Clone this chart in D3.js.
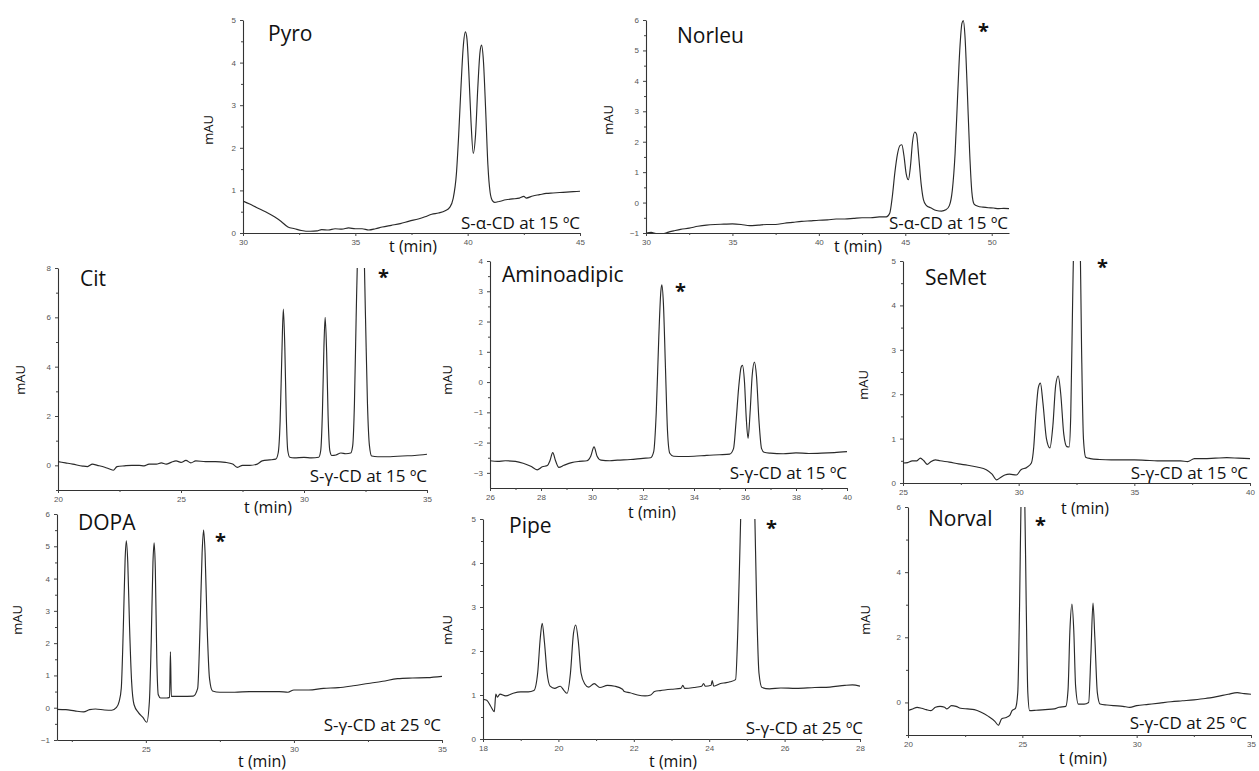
<!DOCTYPE html>
<html><head><meta charset="utf-8">
<script src="https://cdn.jsdelivr.net/npm/d3@7"></script>
<style>
html,body{margin:0;padding:0;background:#fff;}
svg{display:block;}
.tick text{font-family:"Liberation Sans",Arial,sans-serif;font-size:8px;fill:#555;}
.lbl{font-family:"Open Sans",sans-serif;fill:#111;}
</style></head>
<body>
<svg id="c" width="1259" height="771"></svg>
<script>
// ---------- data (t in min, signal in mAU) ----------
const pyro = [[30,0.75],[30.3,0.68],[30.6,0.6],[31,0.5],[31.4,0.38],[31.7,0.27],[32,0.14],[32.3,0.1],[32.6,0.06],[33,0.04],[33.3,0.05],[33.5,0.08],[33.8,0.07],[34.1,0.1],[34.4,0.09],[34.7,0.12],[35,0.1],[35.3,0.1],[35.6,0.07],[35.9,0.1],[36.2,0.14],[36.6,0.18],[37,0.22],[37.4,0.28],[37.8,0.33],[38.1,0.38],[38.4,0.44],[38.7,0.47],[39,0.52],[39.2,0.6],[39.35,0.8],[39.5,1.4],[39.6,2.3],[39.7,3.4],[39.8,4.35],[39.9,4.72],[39.97,4.55],[40.05,3.8],[40.15,2.6],[40.25,1.87],[40.35,2.3],[40.45,3.4],[40.55,4.25],[40.62,4.41],[40.7,4.05],[40.8,2.9],[40.9,1.6],[41.0,0.95],[41.1,0.76],[41.2,0.72],[41.4,0.74],[41.7,0.78],[42,0.8],[42.3,0.82],[42.5,0.86],[42.6,0.82],[42.9,0.87],[43.2,0.9],[43.5,0.93],[43.8,0.94],[44.1,0.95],[44.4,0.96],[44.7,0.97],[45,0.98]];
const norleu = [[30,-1.0],[30.3,-0.98],[30.6,-1.02],[31,-1.02],[31.3,-0.97],[31.6,-0.93],[32,-0.88],[32.5,-0.84],[33,-0.78],[33.5,-0.74],[34,-0.72],[34.5,-0.71],[35,-0.7],[35.5,-0.72],[36,-0.76],[36.5,-0.74],[37,-0.72],[37.5,-0.72],[38,-0.68],[38.5,-0.65],[39,-0.62],[39.5,-0.6],[40,-0.58],[40.5,-0.57],[41,-0.54],[41.5,-0.54],[42,-0.52],[42.5,-0.5],[43,-0.5],[43.5,-0.47],[43.9,-0.47],[44.1,-0.35],[44.25,0.2],[44.4,1.0],[44.55,1.6],[44.7,1.88],[44.8,1.9],[44.92,1.55],[45.05,0.95],[45.18,0.75],[45.3,1.2],[45.42,2.0],[45.55,2.32],[45.65,2.25],[45.78,1.5],[45.92,0.6],[46.05,0.1],[46.2,-0.08],[46.5,-0.18],[46.8,-0.26],[47.1,-0.28],[47.35,-0.24],[47.55,-0.1],[47.72,0.4],[47.88,1.6],[48.02,3.4],[48.15,5.0],[48.28,5.9],[48.36,5.98],[48.45,5.5],[48.58,3.8],[48.72,1.7],[48.85,0.35],[48.98,-0.05],[49.2,-0.12],[49.5,-0.15],[49.8,-0.17],[50.1,-0.18],[50.4,-0.2],[50.7,-0.19],[51,-0.2]];
const cit = [[20,0.15],[20.3,0.1],[20.6,0.05],[21,-0.03],[21.2,-0.05],[21.4,0.05],[21.6,0.0],[21.9,-0.08],[22.1,-0.15],[22.25,-0.2],[22.4,-0.05],[22.7,-0.02],[23,0.0],[23.3,0.0],[23.5,-0.02],[23.7,0.05],[24,0.05],[24.2,0.1],[24.4,0.05],[24.6,0.12],[24.8,0.18],[25,0.12],[25.2,0.2],[25.4,0.1],[25.6,0.18],[26,0.15],[26.4,0.15],[26.8,0.12],[27.1,0.05],[27.3,-0.08],[27.5,0.0],[27.8,0.0],[28.1,0.05],[28.3,0.18],[28.6,0.22],[28.85,0.25],[28.95,0.5],[29.03,1.8],[29.1,4.5],[29.16,6.33],[29.22,4.8],[29.28,2.0],[29.34,0.6],[29.42,0.33],[29.6,0.3],[30,0.32],[30.3,0.3],[30.6,0.33],[30.68,0.6],[30.75,2.2],[30.81,4.8],[30.86,6.0],[30.92,4.6],[30.98,2.0],[31.05,0.6],[31.13,0.4],[31.3,0.42],[31.5,0.5],[31.7,0.47],[31.9,0.5],[31.98,0.8],[32.05,2.5],[32.12,6.0],[32.2,9.5],[32.3,11],[32.42,9.5],[32.5,6.0],[32.58,2.5],[32.66,0.8],[32.75,0.38],[33,0.35],[33.5,0.35],[34,0.38],[34.5,0.4],[35,0.45]];
const aminoadipic = [[26,-2.6],[26.3,-2.62],[26.6,-2.6],[27,-2.62],[27.3,-2.68],[27.6,-2.78],[27.85,-2.9],[28.05,-2.8],[28.25,-2.76],[28.35,-2.6],[28.46,-2.33],[28.57,-2.6],[28.7,-2.82],[28.9,-2.75],[29.2,-2.66],[29.5,-2.62],[29.8,-2.6],[29.95,-2.45],[30.08,-2.14],[30.2,-2.45],[30.35,-2.58],[30.7,-2.6],[31,-2.58],[31.5,-2.56],[32,-2.52],[32.3,-2.5],[32.42,-2.3],[32.52,-1.0],[32.62,1.5],[32.7,3.0],[32.74,3.21],[32.8,2.6],[32.88,0.5],[32.96,-1.6],[33.05,-2.35],[33.2,-2.45],[33.6,-2.46],[34,-2.45],[34.5,-2.42],[35,-2.4],[35.4,-2.38],[35.55,-2.2],[35.65,-1.3],[35.75,-0.2],[35.85,0.5],[35.9,0.55],[35.98,0.0],[36.05,-1.2],[36.12,-1.86],[36.2,-1.0],[36.28,0.2],[36.37,0.66],[36.45,0.2],[36.55,-1.3],[36.65,-2.2],[36.75,-2.32],[37,-2.35],[37.5,-2.37],[38,-2.34],[38.5,-2.36],[39,-2.35],[39.5,-2.33],[40,-2.3]];
const semet = [[25,0.45],[25.2,0.46],[25.4,0.5],[25.6,0.5],[25.75,0.56],[25.9,0.5],[26.05,0.42],[26.2,0.48],[26.4,0.52],[26.6,0.5],[27,0.47],[27.4,0.43],[27.8,0.4],[28.2,0.36],[28.6,0.3],[28.85,0.2],[29.05,0.07],[29.2,0.12],[29.4,0.18],[29.6,0.2],[29.9,0.18],[30.1,0.3],[30.35,0.35],[30.55,0.45],[30.65,0.8],[30.75,1.6],[30.85,2.15],[30.94,2.25],[31.05,1.8],[31.2,1.0],[31.35,0.79],[31.48,1.3],[31.6,2.2],[31.71,2.41],[31.82,2.0],[31.95,1.1],[32.08,0.82],[32.18,0.81],[32.25,1.5],[32.33,4.0],[32.42,6.5],[32.53,7.5],[32.63,6.5],[32.72,3.0],[32.8,1.0],[32.9,0.58],[33.1,0.55],[33.5,0.53],[34,0.52],[34.5,0.52],[35,0.52],[35.5,0.51],[36,0.5],[36.5,0.5],[37,0.5],[37.3,0.48],[37.6,0.55],[38,0.55],[38.5,0.56],[39,0.57],[39.5,0.56],[40,0.55]];
const dopa = [[22,-0.05],[22.3,-0.06],[22.6,-0.1],[22.9,-0.13],[23.1,-0.06],[23.3,-0.04],[23.6,-0.07],[23.85,-0.08],[24.0,0.0],[24.1,0.2],[24.17,0.6],[24.24,2.5],[24.3,4.6],[24.34,5.17],[24.39,4.5],[24.45,2.5],[24.52,0.8],[24.6,0.1],[24.75,-0.15],[24.9,-0.3],[25.03,-0.45],[25.12,0.2],[25.18,2.0],[25.24,4.5],[25.28,5.11],[25.32,4.3],[25.37,1.5],[25.42,0.4],[25.5,0.3],[25.7,0.3],[25.8,0.32],[25.83,1.73],[25.86,0.35],[26.2,0.35],[26.6,0.36],[26.75,0.6],[26.83,2.5],[26.9,4.8],[26.95,5.5],[27.0,4.8],[27.07,2.5],[27.15,0.9],[27.25,0.52],[27.5,0.48],[28,0.48],[28.5,0.5],[29,0.5],[29.5,0.5],[29.8,0.48],[30,0.55],[30.5,0.55],[31,0.6],[31.5,0.62],[32,0.68],[32.5,0.75],[33,0.82],[33.5,0.9],[34,0.92],[34.5,0.93],[35,0.97]];
const pipe = [[18,0.9],[18.1,0.88],[18.2,0.75],[18.3,0.62],[18.34,1.02],[18.38,0.95],[18.45,1.02],[18.6,0.98],[18.8,1.04],[19,1.07],[19.2,1.07],[19.35,1.1],[19.45,1.5],[19.52,2.3],[19.57,2.63],[19.63,2.2],[19.7,1.5],[19.78,1.2],[19.9,1.15],[20.05,1.2],[20.15,1.1],[20.23,1.04],[20.32,1.5],[20.4,2.4],[20.46,2.59],[20.53,2.2],[20.6,1.5],[20.7,1.25],[20.8,1.18],[20.95,1.26],[21.1,1.17],[21.3,1.22],[21.5,1.2],[21.7,1.13],[21.75,1.08],[21.9,1.05],[22.1,1.0],[22.3,0.98],[22.45,1.0],[22.55,1.08],[22.7,1.1],[23,1.13],[23.25,1.15],[23.3,1.22],[23.35,1.15],[23.6,1.17],[23.8,1.2],[23.85,1.26],[23.9,1.2],[24.05,1.22],[24.08,1.33],[24.12,1.2],[24.3,1.26],[24.45,1.28],[24.55,1.3],[24.7,1.35],[24.76,2.5],[24.82,4.5],[24.88,6.5],[25.0,8.0],[25.12,7.5],[25.2,5.5],[25.26,3.0],[25.32,1.5],[25.4,1.17],[25.6,1.14],[25.9,1.16],[26.3,1.15],[26.8,1.17],[27.2,1.18],[27.6,1.22],[27.8,1.23],[28,1.2]];
const norval = [[20,-0.25],[20.2,-0.2],[20.4,-0.15],[20.6,-0.18],[20.8,-0.22],[21,-0.25],[21.2,-0.15],[21.4,-0.12],[21.6,-0.15],[21.7,-0.2],[21.9,-0.1],[22.1,-0.12],[22.3,-0.18],[22.6,-0.2],[22.9,-0.22],[23.2,-0.3],[23.5,-0.42],[23.8,-0.58],[23.95,-0.7],[24.1,-0.5],[24.3,-0.46],[24.45,-0.4],[24.55,-0.25],[24.7,-0.18],[24.8,0.3],[24.88,3.0],[24.95,6.5],[25.02,7.5],[25.1,6.5],[25.17,3.0],[25.24,0.3],[25.32,-0.25],[25.6,-0.24],[26,-0.22],[26.4,-0.2],[26.6,-0.15],[26.9,-0.12],[27.0,0.4],[27.08,2.2],[27.17,3.02],[27.25,2.2],[27.33,0.5],[27.45,-0.05],[27.7,-0.05],[27.9,0.0],[28.0,1.5],[28.09,3.05],[28.17,2.0],[28.28,0.3],[28.4,-0.05],[28.7,-0.08],[29,-0.1],[29.4,-0.12],[29.7,-0.15],[30,-0.1],[30.5,-0.06],[31,-0.02],[31.5,0.02],[32,0.05],[32.5,0.08],[33,0.12],[33.5,0.18],[34,0.25],[34.4,0.3],[34.7,0.27],[35,0.25]];

const names = ["Pyro","Norleu","Cit","Aminoadipic","SeMet","DOPA","Pipe","Norval"];
const conditions = ["S-α-CD at 15 ºC","S-α-CD at 15 ºC","S-γ-CD at 15 ºC","S-γ-CD at 15 ºC","S-γ-CD at 15 ºC","S-γ-CD at 25 ºC","S-γ-CD at 25 ºC","S-γ-CD at 25 ºC"];
const series = [pyro, norleu, cit, aminoadipic, semet, dopa, pipe, norval];
const xDomains = [[30,45],[30,51],[20,35],[26,40],[25,40],[22,35],[18,28],[20,35]];
const yDomains = [[0,5],[-1,6],[-1,8],[-3.5,4],[0,5],[-1,6],[0,5],[-1,6]];
const xMajor = [[30,35,40,45],[30,35,40,45,50],[20,25,30,35],[26,28,30,32,34,36,38,40],[25,30,35,40],[25,30,35],[18,20,22,24,26,28],[20,25,30,35]];
const xMinor = [[32.5,37.5,42.5],[32.5,37.5,42.5,47.5],[22.5,27.5,32.5],[27,29,31,33,35,37,39],[27.5,32.5,37.5],[22.5,27.5,32.5],[19,21,23,25,27],[22.5,27.5,32.5]];
const yMajor = [[0,1,2,3,4,5],[-1,0,1,2,3,4,5,6],[0,2,4,6,8],[-3,-2,-1,0,1,2,3,4],[0,1,2,3,4,5],[-1,0,1,2,3,4,5,6],[0,1,2,3,4,5],[0,2,4,6]];
const yMinor = [[0.5,1.5,2.5,3.5,4.5],[-0.5,0.5,1.5,2.5,3.5,4.5,5.5],[-1,1,3,5,7],[-2.5,-1.5,-0.5,0.5,1.5,2.5,3.5],[0.5,1.5,2.5,3.5,4.5],[-0.5,0.5,1.5,2.5,3.5,4.5,5.5],[0.5,1.5,2.5,3.5,4.5],[-1,1,3,5]];
const hasStar = [false,true,true,true,true,true,true,true];

// ---------- layout (pixels) ----------
const layout = [
 {x0:243,x1:580,y0:20,y1:233, ylab:[213,130], name:[268,41], star:null, cond:[580,229], tlab:[413,252]},
 {x0:646,x1:1009,y0:20,y1:233, ylab:[613,120], name:[677,43], star:[978,38], cond:[1008,229], tlab:[858,252]},
 {x0:58,x1:427,y0:268,y1:490, ylab:[25,380], name:[80,286], star:[378,284], cond:[427,482], tlab:[268,513]},
 {x0:490,x1:847,y0:261,y1:488, ylab:[452,380], name:[502,282], star:[675,298], cond:[847,479], tlab:[652,518]},
 {x0:903,x1:1250,y0:261,y1:483, ylab:[868,385], name:[925,285], star:[1097,274], cond:[1248,479], tlab:[1085,514]},
 {x0:57,x1:442,y0:514,y1:740, ylab:[22,620], name:[78,530], star:[215,548], cond:[441,731], tlab:[262,767]},
 {x0:483,x1:860,y0:519,y1:739, ylab:[452,630], name:[509,533], star:[766,535], cond:[863,734], tlab:[673,767]},
 {x0:908,x1:1251,y0:507,y1:735, ylab:[870,620], name:[928,526], star:[1035,532], cond:[1247,729], tlab:[1083,764]}
];

const svg = d3.select("#c");
series.forEach((data,i)=>{
  const L = layout[i];
  const x = d3.scaleLinear().domain(xDomains[i]).range([L.x0,L.x1]);
  const y = d3.scaleLinear().domain(yDomains[i]).range([L.y1,L.y0]);
  const g = svg.append("g");
  const cid = "clip"+i;
  svg.append("clipPath").attr("id",cid).append("rect")
     .attr("x",L.x0).attr("y",L.y0).attr("width",L.x1-L.x0).attr("height",L.y1-L.y0);
  g.append("g").attr("transform",`translate(0,${L.y1})`)
     .call(d3.axisBottom(x).tickValues(xMajor[i]).tickFormat(d3.format("d")).tickSize(3).tickSizeOuter(0).tickPadding(3));
  g.append("g").attr("transform",`translate(0,${L.y1})`)
     .call(d3.axisBottom(x).tickValues(xMinor[i]).tickFormat("").tickSize(2).tickSizeOuter(0))
     .select(".domain").remove();
  g.append("g").attr("transform",`translate(${L.x0},0)`)
     .call(d3.axisLeft(y).tickValues(yMajor[i]).tickFormat(d3.format("d")).tickSize(3).tickSizeOuter(0).tickPadding(4));
  g.append("g").attr("transform",`translate(${L.x0},0)`)
     .call(d3.axisLeft(y).tickValues(yMinor[i]).tickFormat("").tickSize(2).tickSizeOuter(0))
     .select(".domain").remove();
  g.selectAll(".domain").attr("stroke","#333").attr("stroke-width",1.1);
  g.selectAll(".tick line").attr("stroke","#444");
  g.append("path").datum(data)
   .attr("clip-path",`url(#${cid})`)
   .attr("fill","none").attr("stroke","#2a2a2a").attr("stroke-width",1.15)
   .attr("stroke-linejoin","round")
   .attr("d", d3.line().x(d=>x(d[0])).y(d=>y(d[1])).curve(d3.curveMonotoneX));
  g.append("text").attr("class","lbl").attr("transform",`translate(${L.ylab[0]},${L.ylab[1]}) rotate(-90)`)
   .attr("text-anchor","middle").attr("font-size",13).text("mAU");
  g.append("text").attr("class","lbl").attr("x",L.tlab[0]).attr("y",L.tlab[1])
   .attr("text-anchor","middle").attr("font-size",16).text("t (min)");
  g.append("text").attr("class","lbl").attr("x",L.name[0]).attr("y",L.name[1])
   .attr("font-size",21).text(names[i]);
  g.append("text").attr("class","lbl").attr("x",L.cond[0]).attr("y",L.cond[1])
   .attr("text-anchor","end").attr("font-size",17).text(conditions[i]);
  if(hasStar[i]) g.append("text").attr("class","lbl").attr("x",L.star[0]).attr("y",L.star[1])
   .attr("font-size",20).attr("font-weight","bold").text("*");
});
</script>
</body></html>
